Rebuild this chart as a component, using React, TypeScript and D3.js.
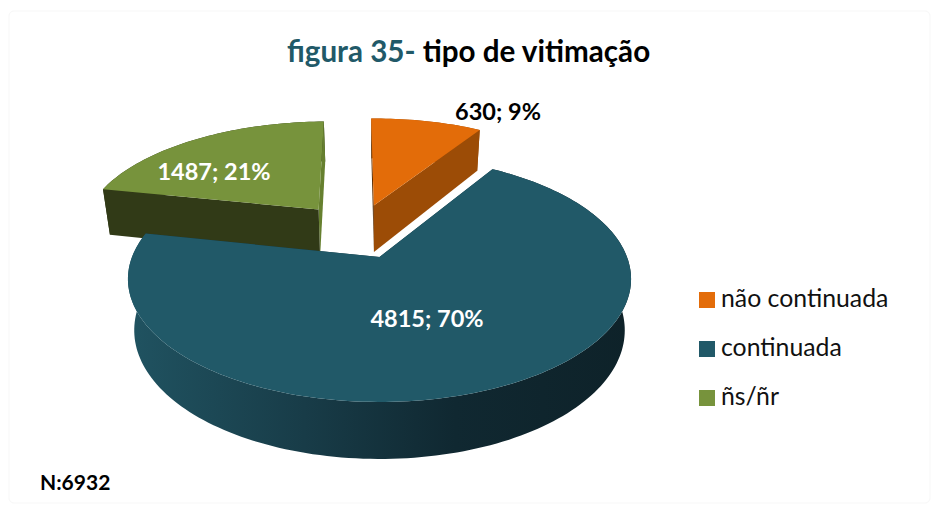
import React from 'react'
import * as d3 from 'd3'

const categories = ['não continuada', 'continuada', 'ñs/ñr']
const values = [630, 4815, 1487]
const percents = [9, 70, 21]
const topColors = ['#e36c09', '#215968', '#77933c']
const cutColors = ['#9c4c06', '#15343d', '#313a17']
const backCutColors = ['#5c2e04', '#15343d', '#66802f']
const labelColors = ['#000', '#fff', '#fff']
const labelPos = [[498, 120], [427, 327], [214, 180]]
// how far each slice is pulled out, in units of the pie radius
const explode = [[-0.025, -0.47], [0, 0], [-0.265, -0.43]]
const legendY = [300, 349, 398]

const width = 939
const height = 511
const rotation = (-1 * Math.PI) / 180

// perspective: the near half of the disc comes out bigger than the far half
const cx = 379.5
const cy = 257
const sizeX = 247.5
const tiltA = 73
const tiltK = -0.179

function project(u: number, v: number, low: boolean): [number, number] {
  const w = 1 + tiltK * v
  const x = (sizeX * u) / w
  const y = (tiltA * v + cy) / w
  if (!low) return [cx + x, y]
  return [cx + x * 0.975, y + 50 + 7 * v]
}

function rimPoints(i: number, a0: number, a1: number, low: boolean) {
  const n = Math.max(2, Math.ceil(Math.abs(a1 - a0) * 40))
  return d3.range(n + 1).map((k) => {
    const a = a0 + ((a1 - a0) * k) / n
    return project(explode[i][0] + Math.sin(a), explode[i][1] - Math.cos(a), low)
  })
}

const line = d3.line()

export default function App() {
  const arcs = d3
    .pie<number>()
    .sort(null)
    .startAngle(rotation)
    .endAngle(rotation + 2 * Math.PI)(values)

  const drawOrder = [2, 0, 1]

  return (
    <svg
      width={width}
      height={height}
      style={{ position: 'absolute', left: 0, top: 0, background: '#fff' }}
      fontFamily="Lato, 'Open Sans', sans-serif"
    >
      <defs>
        <linearGradient id="blueSide" x1="0" x2="1" y1="0" y2="0">
          <stop offset="0" stopColor="#205361" />
          <stop offset="0.35" stopColor="#183c48" />
          <stop offset="0.65" stopColor="#102831" />
          <stop offset="1" stopColor="#0e2229" />
        </linearGradient>
      </defs>

      <rect x={9} y={11} width={921} height={492} rx={5} fill="#fff" stroke="#f7f7f7" />

      <text x={287} y={62} fontSize={29.6} fontWeight={700} fill="#215968">
        figura 35- <tspan fill="#000">tipo de vitimação</tspan>
      </text>

      {drawOrder.map((i) => {
        const arc = arcs[i]
        const apexTop = project(explode[i][0], explode[i][1], false)
        const apexLow = project(explode[i][0], explode[i][1], true)
        const top = rimPoints(i, arc.startAngle, arc.endAngle, false)
        const low = rimPoints(i, arc.startAngle, arc.endAngle, true)
        const first = 0
        const last = top.length - 1
        return (
          <g key={categories[i]}>
            {/* round outer side goes first, the cut faces sit over its back part */}
            <path
              d={line([...top, ...low.slice().reverse()])! + 'Z'}
              fill={i === 1 ? 'url(#blueSide)' : cutColors[i]}
            />
            {/* cut faces of the wedge */}
            <path
              d={line([apexTop, top[last], low[last], apexLow])! + 'Z'}
              fill={i === 2 ? backCutColors[i] : cutColors[i]}
            />
            <path
              d={line([apexTop, top[first], low[first], apexLow])! + 'Z'}
              fill={i === 2 ? cutColors[i] : backCutColors[i]}
            />
            {/* top face */}
            <path d={line([apexTop, ...top])! + 'Z'} fill={topColors[i]} />
          </g>
        )
      })}

      {categories.map((c, i) => (
        <text
          key={c}
          x={labelPos[i][0]}
          y={labelPos[i][1]}
          textAnchor="middle"
          fontSize={23.5}
          fontWeight={700}
          fill={labelColors[i]}
        >
          {values[i]}; {percents[i]}%
        </text>
      ))}

      {categories.map((c, i) => (
        <g key={c}>
          <rect x={699} y={legendY[i] - 8} width={16} height={16} fill={topColors[i]} />
          <text x={721} y={legendY[i] + 7} fontSize={24.8} fill="#111">
            {c}
          </text>
        </g>
      ))}

      <text x={40} y={490} fontSize={21} fontWeight={700} fill="#000">
        N:{d3.sum(values)}
      </text>
    </svg>
  )
}
